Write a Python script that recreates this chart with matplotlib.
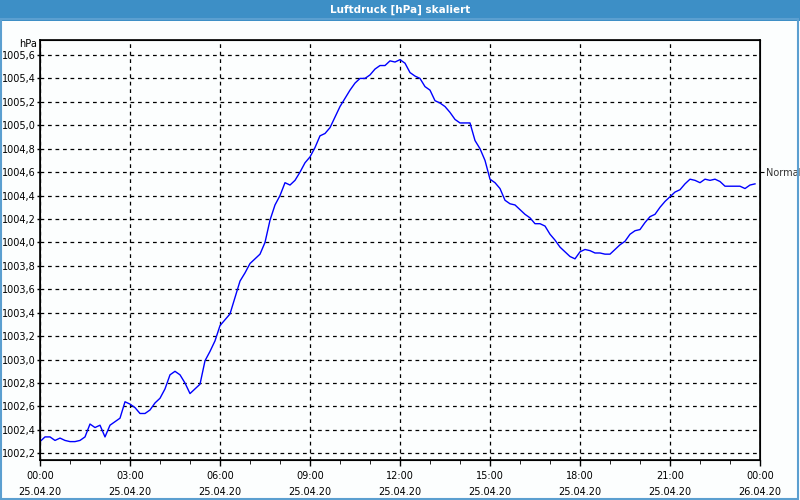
"""
Luftdruck chart for 25.04.20 (hPa, scaled).
"""
import numpy as np
import matplotlib
matplotlib.use("Agg")
import matplotlib.pyplot as plt
from matplotlib.patches import Rectangle
from matplotlib.ticker import FuncFormatter, MultipleLocator

# pressure readings every 10 minutes, 00:00 .. 23:50
pressure = [
    1002.30, 1002.34, 1002.34, 1002.31, 1002.33, 1002.31, 1002.30, 1002.30,
    1002.31, 1002.34, 1002.45, 1002.42, 1002.44, 1002.34, 1002.44, 1002.47,
    1002.50, 1002.64, 1002.62, 1002.59, 1002.54, 1002.54, 1002.57, 1002.63,
    1002.67, 1002.75, 1002.87, 1002.90, 1002.87, 1002.80, 1002.71, 1002.75,
    1002.79, 1002.99, 1003.07, 1003.16, 1003.29,
    1003.34, 1003.39, 1003.53, 1003.67, 1003.74, 1003.82, 1003.86, 1003.90,
    1004.00, 1004.19, 1004.32, 1004.40, 1004.51, 1004.49, 1004.53, 1004.60,
    1004.68, 1004.73, 1004.81, 1004.91, 1004.93, 1004.98, 1005.07, 1005.16,
    1005.23, 1005.30, 1005.36, 1005.40, 1005.40, 1005.43, 1005.48, 1005.51,
    1005.51, 1005.55, 1005.54, 1005.56,
    1005.53, 1005.45, 1005.42, 1005.40, 1005.33, 1005.30, 1005.21, 1005.19,
    1005.16, 1005.11, 1005.05, 1005.02, 1005.02, 1005.02, 1004.87, 1004.80,
    1004.70, 1004.54, 1004.51, 1004.46, 1004.36, 1004.33, 1004.32, 1004.28,
    1004.24, 1004.21, 1004.16, 1004.16, 1004.14, 1004.07, 1004.02, 1003.96,
    1003.92, 1003.88, 1003.86, 1003.92,
    1003.94, 1003.93, 1003.91, 1003.91, 1003.90, 1003.90, 1003.94, 1003.98,
    1004.01, 1004.07, 1004.10, 1004.11, 1004.17, 1004.22, 1004.24, 1004.30,
    1004.35, 1004.39, 1004.43, 1004.45, 1004.50, 1004.54, 1004.53, 1004.51,
    1004.54, 1004.53, 1004.54, 1004.52, 1004.48, 1004.48, 1004.48, 1004.48,
    1004.46, 1004.49, 1004.50,
]
hours = np.arange(len(pressure)) / 6.0

tick_hours = [0, 3, 6, 9, 12, 15, 18, 21, 24]
tick_times = ["00:00", "03:00", "06:00", "09:00", "12:00", "15:00", "18:00", "21:00", "00:00"]
tick_dates = ["25.04.20"] * 8 + ["26.04.20"]

series_name = "Normal"
series_level = 1004.6
title = "Luftdruck [hPa] skaliert"
unit = "hPa"

fig = plt.figure(figsize=(8, 5), dpi=100, facecolor="#fcfefe")

# window title bar and frame
fig.patches.append(Rectangle((0, 1 - 21 / 500), 1, 21 / 500, transform=fig.transFigure,
                             facecolor="#3d8fc6", edgecolor="none", zorder=0))
fig.patches.append(Rectangle((0.001, 0.003), 0.997, 0.96, transform=fig.transFigure,
                             facecolor="none", edgecolor="#5b9fd0", linewidth=1.5, zorder=0))
fig.text(0.5, 1 - 10 / 500, title, color="white", fontsize=7.5, fontweight="bold",
         ha="center", va="center")

ax = fig.add_axes([40 / 800, 40 / 500, 720 / 800, 420 / 500])
ax.set_facecolor("#fcfefe")
ax.plot(hours, pressure, color="#0000ff", linewidth=1)

ax.set_xlim(0, 24)
ax.set_ylim(1002.143, 1005.728)
ax.set_xticks(tick_hours)
ax.set_xticklabels([f"{t}\n{d}" for t, d in zip(tick_times, tick_dates)], linespacing=1.75)
ax.xaxis.set_minor_locator(MultipleLocator(1))
ax.yaxis.set_major_locator(MultipleLocator(0.2))
ax.yaxis.set_major_formatter(FuncFormatter(lambda v, p: f"{v:.1f}".replace(".", ",")))

ax.tick_params(axis="both", labelsize=7, colors="black", width=1)
ax.tick_params(axis="x", which="major", length=4, pad=4)
ax.tick_params(axis="x", which="minor", length=3)
ax.tick_params(axis="y", length=2, pad=1)
for s in ax.spines.values():
    s.set_linewidth(1.2)

ax.grid(True, which="major", color="black", linestyle=(0, (3, 3)), linewidth=0.9)

ax.text(-0.004, 1.0 - 4 / 420, unit, transform=ax.transAxes, fontsize=7,
        ha="right", va="center")

# series label at the right edge
ax2 = ax.twinx()
ax2.set_ylim(ax.get_ylim())
ax2.set_yticks([series_level])
ax2.set_yticklabels([series_name])
ax2.tick_params(axis="y", labelsize=7, length=3, pad=1, labelcolor="#333333")

fig.savefig("out.png", dpi=100, facecolor=fig.get_facecolor())
plt.close(fig)
